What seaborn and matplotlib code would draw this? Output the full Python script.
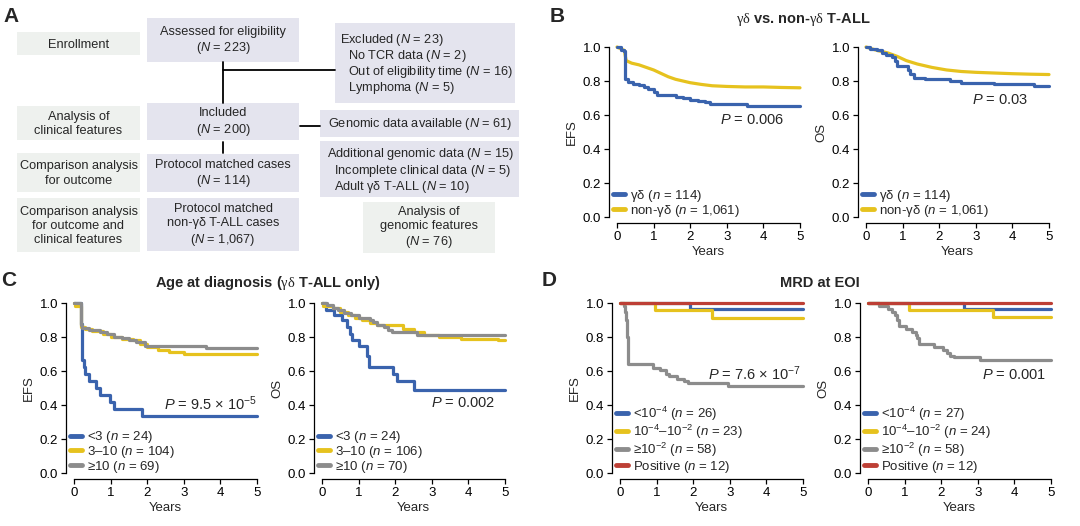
import matplotlib
matplotlib.use('Agg')
import matplotlib.pyplot as plt
import matplotlib.patches as mpatches
import seaborn as sns
import pandas as pd

# %%
# --- data: Kaplan-Meier curves (time in years, survival) ---
# B: gd vs non-gd, EFS
b_efs_gd_t = [0, 0.1, 0.2, 0.23, 0.3, 0.45, 0.6, 0.75, 0.85, 1.0, 1.1, 1.4, 1.6, 1.8, 2.0, 2.2, 2.4, 2.55, 3.55, 5]
b_efs_gd_s = [1.0, 0.985, 0.975, 0.81, 0.795, 0.785, 0.775, 0.765, 0.755, 0.735, 0.72, 0.715, 0.705, 0.70, 0.69, 0.685, 0.675, 0.665, 0.655, 0.655]
b_efs_non_t = [0, 0.1, 0.2, 0.25, 0.4, 0.6, 0.8, 1.0, 1.2, 1.4, 1.6, 1.8, 2.0, 2.3, 2.6, 3.0, 3.5, 4.0, 4.5, 5]
b_efs_non_s = [1.0, 0.99, 0.98, 0.92, 0.905, 0.895, 0.88, 0.865, 0.845, 0.825, 0.81, 0.80, 0.79, 0.78, 0.772, 0.768, 0.765, 0.765, 0.762, 0.76]
# B: OS
b_os_gd_t = [0, 0.1, 0.3, 0.45, 0.55, 0.7, 0.8, 0.85, 1.15, 1.2, 1.3, 1.6, 2.3, 2.6, 3.5, 4.4, 4.6, 5]
b_os_gd_s = [1.0, 0.99, 0.98, 0.965, 0.955, 0.94, 0.92, 0.89, 0.865, 0.84, 0.82, 0.81, 0.80, 0.79, 0.785, 0.78, 0.77, 0.77]
b_os_non_t = [0, 0.3, 0.6, 0.85, 1.1, 1.4, 1.8, 2.2, 2.6, 3.0, 3.5, 4.0, 4.5, 5]
b_os_non_s = [1.0, 0.98, 0.965, 0.945, 0.92, 0.90, 0.88, 0.865, 0.856, 0.851, 0.847, 0.843, 0.84, 0.838]

# C: age at diagnosis, EFS
c_efs_lt3_t = [0, 0.19, 0.21, 0.23, 0.26, 0.3, 0.4, 0.6, 0.7, 0.98, 1.1, 1.85, 5]
c_efs_lt3_s = [1.0, 0.875, 0.75, 0.667, 0.625, 0.583, 0.542, 0.5, 0.458, 0.417, 0.375, 0.333, 0.333]
c_efs_3to10_t = [0, 0.02, 0.18, 0.2, 0.3, 0.5, 0.8, 1.0, 1.3, 1.6, 1.8, 2.0, 2.3, 2.6, 3.0, 5]
c_efs_3to10_s = [1.0, 0.98, 0.96, 0.86, 0.85, 0.835, 0.82, 0.80, 0.79, 0.78, 0.76, 0.74, 0.725, 0.71, 0.70, 0.70]
c_efs_ge10_t = [0, 0.2, 0.22, 0.4, 0.7, 0.9, 1.1, 1.3, 1.5, 1.7, 1.95, 3.6, 5]
c_efs_ge10_s = [1.0, 0.87, 0.855, 0.84, 0.83, 0.82, 0.80, 0.795, 0.785, 0.77, 0.75, 0.735, 0.735]
# C: OS
c_os_lt3_t = [0, 0.1, 0.32, 0.55, 0.68, 0.77, 0.82, 1.0, 1.23, 1.28, 1.95, 2.05, 2.5, 5]
c_os_lt3_s = [1.0, 0.96, 0.93, 0.90, 0.86, 0.82, 0.78, 0.75, 0.69, 0.625, 0.58, 0.54, 0.49, 0.49]
c_os_3to10_t = [0, 0.02, 0.3, 0.5, 0.7, 0.9, 1.1, 1.3, 1.5, 2.2, 2.5, 2.8, 3.2, 3.8, 4.8, 5]
c_os_3to10_s = [1.0, 0.98, 0.97, 0.95, 0.93, 0.91, 0.90, 0.88, 0.87, 0.85, 0.83, 0.81, 0.80, 0.79, 0.78, 0.78]
c_os_ge10_t = [0, 0.15, 0.3, 0.45, 0.6, 0.8, 1.0, 1.3, 1.4, 1.5, 1.7, 1.8, 1.9, 2.6, 5]
c_os_ge10_s = [1.0, 0.986, 0.971, 0.957, 0.943, 0.929, 0.914, 0.9, 0.886, 0.871, 0.857, 0.843, 0.829, 0.814, 0.81]

# D: MRD at EOI, EFS
d_efs_low_t = [0, 1.9, 5]
d_efs_low_s = [1.0, 0.962, 0.962]
d_efs_mid_t = [0, 0.95, 2.5, 5]
d_efs_mid_s = [1.0, 0.957, 0.91, 0.91]
d_efs_high_t = [0, 0.1, 0.15, 0.17, 0.18, 0.2, 0.21, 0.22, 0.9, 1.1, 1.25, 1.35, 1.55, 1.75, 1.85, 2.95, 5]
d_efs_high_s = [1.0, 0.983, 0.95, 0.9, 0.85, 0.8, 0.7, 0.64, 0.62, 0.605, 0.585, 0.57, 0.555, 0.54, 0.53, 0.51, 0.51]
d_efs_pos_t = [0, 5]
d_efs_pos_s = [1.0, 1.0]
# D: OS
d_os_low_t = [0, 2.62, 5]
d_os_low_s = [1.0, 0.963, 0.963]
d_os_mid_t = [0, 1.12, 3.42, 5]
d_os_mid_s = [1.0, 0.958, 0.917, 0.917]
d_os_high_t = [0, 0.3, 0.55, 0.65, 0.75, 0.8, 0.85, 1.05, 1.2, 1.3, 1.35, 1.4, 1.8, 2.05, 2.15, 2.25, 2.35, 3.05, 5]
d_os_high_s = [1.0, 0.983, 0.966, 0.948, 0.931, 0.9, 0.862, 0.845, 0.828, 0.81, 0.793, 0.759, 0.741, 0.724, 0.707, 0.69, 0.681, 0.664, 0.664]
d_os_pos_t = [0, 5]
d_os_pos_s = [1.0, 1.0]

# legend labels / p values
b_labels = ["γδ ($n$ = 114)", "non-γδ ($n$ = 1,061)"]
c_efs_labels = ["<3 ($n$ = 24)", "3–10 ($n$ = 104)", "≥10 ($n$ = 69)"]
c_os_labels = ["<3 ($n$ = 24)", "3–10 ($n$ = 106)", "≥10 ($n$ = 70)"]
d_efs_labels = ["<10$^{-4}$ ($n$ = 26)", "10$^{-4}$–10$^{-2}$ ($n$ = 23)", "≥10$^{-2}$ ($n$ = 58)", "Positive ($n$ = 12)"]
d_os_labels = ["<10$^{-4}$ ($n$ = 27)", "10$^{-4}$–10$^{-2}$ ($n$ = 24)", "≥10$^{-2}$ ($n$ = 58)", "Positive ($n$ = 12)"]
p_values = ["$P$ = 0.006", "$P$ = 0.03", "$P$ = 9.5 × 10$^{-5}$", "$P$ = 0.002", "$P$ = 7.6 × 10$^{-7}$", "$P$ = 0.001"]

# flowchart text (panel A)
left_labels = ["Enrollment", "Analysis of\nclinical features", "Comparison analysis\nfor outcome",
               "Comparison analysis\nfor outcome and\nclinical features"]
center_labels = ["Assessed for eligibility\n($N$ = 223)", "Included\n($N$ = 200)",
                 "Protocol matched cases\n($N$ = 114)", "Protocol matched\nnon-γδ T-ALL cases\n($N$ = 1,067)"]
excluded_lines = ["Excluded ($N$ = 23)", "No TCR data ($N$ = 2)", "Out of eligibility time ($N$ = 16)", "Lymphoma ($N$ = 5)"]
genomic_label = "Genomic data available ($N$ = 61)"
additional_lines = ["Additional genomic data ($N$ = 15)", "Incomplete clinical data ($N$ = 5)", "Adult γδ T-ALL ($N$ = 10)"]
genomic_features_label = "Analysis of\ngenomic features\n($N$ = 76)"

# %%
sns.set_theme(style='ticks')
plt.rcParams['font.family'] = ['Liberation Sans', 'DejaVu Sans']
plt.rcParams['mathtext.fontset'] = 'custom'
plt.rcParams['mathtext.rm'] = 'Liberation Sans'
plt.rcParams['mathtext.it'] = 'Liberation Sans:italic'
plt.rcParams['mathtext.bf'] = 'Liberation Sans:bold'
plt.rcParams['mathtext.sf'] = 'Liberation Serif'   # used for the plain greek in titles

BLUE, YELLOW, GREY, RED = '#3a63ad', '#e6c21e', '#8c8c8c', '#bd3f35'
LAV, PALE = '#e4e4ee', '#eef1ee'
W, H = 1080, 526

fig = plt.figure(figsize=(10.8, 5.26), dpi=100)

# overlay in pixel coords for panel A, letters and titles
ov = fig.add_axes([0, 0, 1, 1])
ov.set_xlim(0, W)
ov.set_ylim(H, 0)
ov.axis('off')

def box(x0, y0, x1, y1, color):
    ov.add_patch(mpatches.Rectangle((x0, y0), x1 - x0, y1 - y0, color=color, lw=0, zorder=1))

fs_a = 9.2
left_boxes = [(17, 32, 140, 55), (17, 106, 140, 140), (17, 153, 140, 192), (17, 198, 140, 252)]
center_boxes = [(147, 18, 299, 62), (147, 103, 299, 140), (147, 154, 299, 192), (147, 198, 299, 251)]
for (x0, y0, x1, y1), lab in zip(left_boxes, left_labels):
    box(x0, y0, x1, y1, PALE)
    ov.text((x0 + x1) / 2, (y0 + y1) / 2 + 1, lab, ha='center', va='center', fontsize=fs_a, linespacing=1.25, zorder=2)
for (x0, y0, x1, y1), lab in zip(center_boxes, center_labels):
    box(x0, y0, x1, y1, LAV)
    ov.text((x0 + x1) / 2, (y0 + y1) / 2 + 1, lab, ha='center', va='center', fontsize=fs_a, linespacing=1.25, zorder=2)

box(335, 23, 515, 103, LAV)
for i, (lab, y) in enumerate(zip(excluded_lines, [40, 56, 72, 88])):
    ov.text(340 if i == 0 else 348, y, lab, ha='left', va='center', fontsize=fs_a, zorder=2)
box(320, 110, 519, 137, LAV)
ov.text(420, 124, genomic_label, ha='center', va='center', fontsize=fs_a, zorder=2)
box(320, 141, 519, 197, LAV)
for i, (lab, y) in enumerate(zip(additional_lines, [154, 171, 187])):
    ov.text(327 if i == 0 else 334, y, lab, ha='left', va='center', fontsize=fs_a, zorder=2)
box(363, 202, 495, 253, PALE)
ov.text(429, 228, genomic_features_label, ha='center', va='center', fontsize=fs_a, linespacing=1.25, zorder=2)

for xs, ys in [([223, 223], [62, 103]), ([223, 335], [70, 70]), ([300, 320], [126, 126]), ([223, 223], [142, 153])]:
    ov.plot(xs, ys, color='black', lw=1.3, zorder=2)

for letter, x, y in [('A', 11, 17), ('B', 557, 16), ('C', 9, 280), ('D', 549, 280)]:
    ov.text(x, y, letter, ha='center', va='center', fontsize=15, fontweight='bold')

# greek letters in the titles are set in a plain (non-bold) serif face
ov.text(803, 20, r"$\mathsf{γδ}$ vs. non-$\mathsf{γδ}$ T-ALL", ha='center', va='center', fontsize=10.5, fontweight='bold')
ov.text(268, 283, r"Age at diagnosis ($\mathsf{γδ}$ T-ALL only)", ha='center', va='center', fontsize=10.5, fontweight='bold')
ov.text(820, 283, "MRD at EOI", ha='center', va='center', fontsize=10.5, fontweight='bold')

# %%
def km_axes(px_left, px_top):
    ax = fig.add_axes([px_left / W, 1 - (px_top + 170) / H, 183 / W, 170 / H])
    ax.set_xlim(0, 5)
    ax.set_ylim(0, 1)
    ax.set_xticks(range(6))
    ax.set_yticks([0, 0.2, 0.4, 0.6, 0.8, 1.0])
    ax.set_yticklabels(['0.0', '0.2', '0.4', '0.6', '0.8', '1.0'])
    sns.despine(ax=ax)
    ax.spines['left'].set_position(('outward', 6))
    ax.spines['bottom'].set_position(('outward', 4.5))
    for s in ['left', 'bottom']:
        ax.spines[s].set_linewidth(0.9)
        ax.spines[s].set_color('black')
    ax.tick_params(labelsize=9.5, length=3.5, width=0.9, pad=2, colors='black')
    ax.set_xlabel('Years', fontsize=9.5, labelpad=2)
    ax.patch.set_alpha(0)
    return ax

def draw(ax, series, labels, ylabel, ptext, px, py, spacing=-0.1):
    # series are given in legend order; z sets which curve lies on top
    for (t, s, col, steps, z), lab in zip(series, labels):
        kw = dict(drawstyle='steps-post') if steps else {}
        sns.lineplot(x=t, y=s, color=col, lw=2.3, estimator=None, sort=False, ax=ax,
                     label=lab, clip_on=False, zorder=z, **kw)
    leg = ax.legend(loc='lower left', bbox_to_anchor=(-0.02, -0.01), frameon=False, fontsize=9.5,
                    handlelength=0.9, handletextpad=0.35, labelspacing=spacing, borderpad=0, borderaxespad=0)
    for ln in leg.get_lines():
        ln.set_linewidth(3.5)
    ax.set_ylabel(ylabel, fontsize=9.5, labelpad=3)
    ax.text(px, py, ptext, ha='right', va='center', fontsize=10.5)

ax = km_axes(617, 47)
draw(ax, [(b_efs_gd_t, b_efs_gd_s, BLUE, True, 3), (b_efs_non_t, b_efs_non_s, YELLOW, False, 2)],
     b_labels, 'EFS', p_values[0], 4.56, 0.57)

ax = km_axes(866, 47)
draw(ax, [(b_os_gd_t, b_os_gd_s, BLUE, True, 3), (b_os_non_t, b_os_non_s, YELLOW, False, 2)],
     b_labels, 'OS', p_values[1], 4.43, 0.69)

ax = km_axes(74, 303)
draw(ax, [(c_efs_lt3_t, c_efs_lt3_s, BLUE, True, 2), (c_efs_3to10_t, c_efs_3to10_s, YELLOW, True, 2),
          (c_efs_ge10_t, c_efs_ge10_s, GREY, True, 3)], c_efs_labels, 'EFS', p_values[2], 5.0, 0.41)

ax = km_axes(322, 303)
draw(ax, [(c_os_lt3_t, c_os_lt3_s, BLUE, True, 2), (c_os_3to10_t, c_os_3to10_s, YELLOW, True, 2),
          (c_os_ge10_t, c_os_ge10_s, GREY, True, 3)], c_os_labels, 'OS', p_values[3], 4.73, 0.41)

ax = km_axes(620, 303)
draw(ax, [(d_efs_low_t, d_efs_low_s, BLUE, True, 2), (d_efs_mid_t, d_efs_mid_s, YELLOW, True, 3),
          (d_efs_high_t, d_efs_high_s, GREY, True, 2), (d_efs_pos_t, d_efs_pos_s, RED, True, 4)],
     d_efs_labels, 'EFS', p_values[4], 4.95, 0.586, spacing=-0.02)

ax = km_axes(868, 303)
draw(ax, [(d_os_low_t, d_os_low_s, BLUE, True, 2), (d_os_mid_t, d_os_mid_s, YELLOW, True, 3),
          (d_os_high_t, d_os_high_s, GREY, True, 2), (d_os_pos_t, d_os_pos_s, RED, True, 4)],
     d_os_labels, 'OS', p_values[5], 4.86, 0.574, spacing=-0.02)

fig.savefig('out.png', dpi=100)
